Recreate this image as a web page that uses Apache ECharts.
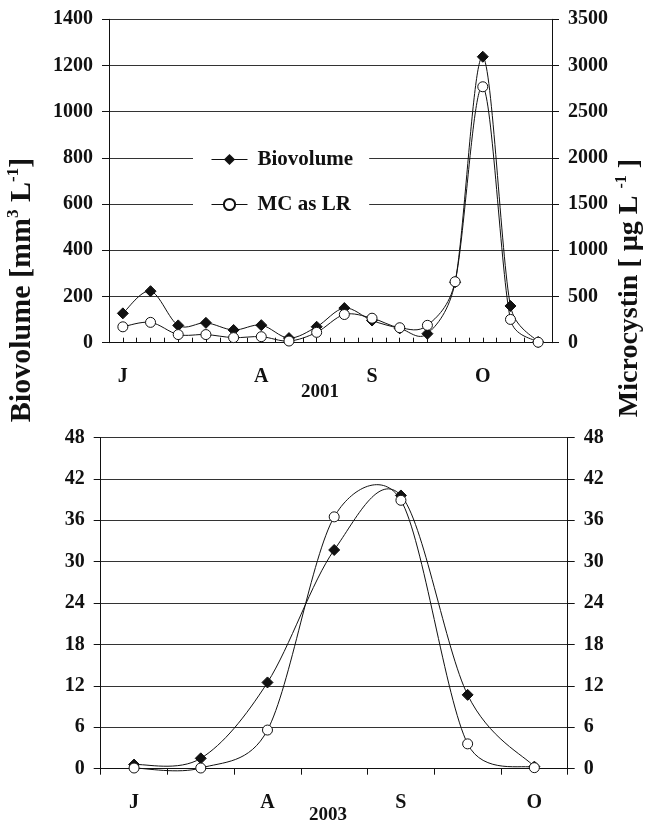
<!DOCTYPE html>
<html>
<head>
<meta charset="utf-8">
<script src="https://cdn.jsdelivr.net/npm/echarts@6/dist/echarts.min.js"></script>
<style>
html,body{margin:0;padding:0;background:#fff;}
#c{width:646px;height:823px;}
</style>
</head>
<body>
<div id="c"></div>
<script>
// ---- 2001 (top panel) ----
const months2001 = ['J','','','','','A','','','','S','','','','O','',''];
const biovolume2001 = [127, 223, 75, 86, 55, 76, 20, 69, 150, 96, 62, 39, 262, 1238, 159, 3];
const microcystin2001 = [172, 220, 88, 88, 55, 65, 18, 112, 305, 265, 162, 188, 660, 2770, 252, 5];
const leftTicks2001 = {min: 0, max: 1400, interval: 200};
const rightTicks2001 = {min: 0, max: 3500, interval: 500};
const minorTickSlots2001 = 32;

// ---- 2003 (bottom panel) ----
const months2003 = ['J','','A','','S','','O'];
const biovolume2003 = [0.6, 1.5, 12.5, 31.7, 39.6, 10.7, 0.3];
const microcystin2003 = [0.1, 0.1, 5.6, 36.5, 38.9, 3.6, 0.15];
const ticks2003 = {min: 0, max: 48, interval: 6};

const FONT = 'Liberation Serif';
const black = '#111';

const chart = echarts.init(document.getElementById('c'), null, {renderer: 'canvas'});

function yAxis(grid, t, pos) {
  return {
    type: 'value', gridIndex: grid, position: pos,
    min: t.min, max: t.max, interval: t.interval,
    axisLine: {show: true, lineStyle: {color: black, width: 1}},
    axisTick: {show: true, inside: false, length: 7, lineStyle: {color: black}},
    axisLabel: {color: black, fontFamily: FONT, fontWeight: 'bold', fontSize: 20, margin: 16,
                formatter: v => String(v)},
    splitLine: {show: pos === 'left', lineStyle: {color: '#333', width: 1}}
  };
}

// Excel-style smoothed curve (Bezier, tangent/6 with arm capped at half the segment),
// drawn through the axes' own coordinate mapping
function curve(values, xIdx, yIdx) {
  const n = values.length;
  function cap(ax, ay, segLen) {
    const len = Math.hypot(ax, ay);
    const lim = segLen / 2;
    if (len > lim && len > 0) { const s = lim / len; return [ax * s, ay * s]; }
    return [ax, ay];
  }
  return {
    type: 'custom', xAxisIndex: xIdx, yAxisIndex: yIdx, z: 1, silent: true,
    data: values.map((v, i) => [i, v]),
    renderItem: function (params, api) {
      const i = params.dataIndex;
      if (i >= n - 1) return null;
      const P = k => { const c = Math.max(0, Math.min(n - 1, k)); return api.coord([c, values[c]]); };
      const p0 = P(i - 1), p1 = P(i), p2 = P(i + 1), p3 = P(i + 2);
      const seg = Math.hypot(p2[0] - p1[0], p2[1] - p1[1]);
      const a1 = cap((p2[0] - p0[0]) / 6, (p2[1] - p0[1]) / 6, seg);
      const a2 = cap((p3[0] - p1[0]) / 6, (p3[1] - p1[1]) / 6, seg);
      return {
        type: 'bezierCurve',
        shape: {
          x1: p1[0], y1: p1[1], x2: p2[0], y2: p2[1],
          cpx1: p1[0] + a1[0], cpy1: p1[1] + a1[1],
          cpx2: p2[0] - a2[0], cpy2: p2[1] - a2[1]
        },
        style: {stroke: black, lineWidth: 1, fill: null}
      };
    }
  };
}

const hiddenLine = {color: black, width: 1, opacity: 0};
const diamond = {symbol: 'diamond', symbolSize: 11, itemStyle: {color: black, borderColor: black}};
const circle = {symbol: 'circle', symbolSize: 10, itemStyle: {color: '#fff', borderColor: black, borderWidth: 1}};

function marks(name, xIdx, yIdx, data, sym) {
  return Object.assign({type: 'line', name, xAxisIndex: xIdx, yAxisIndex: yIdx, data, z: 3,
                        showAllSymbol: true, lineStyle: hiddenLine}, sym);
}

const option = {
  animation: false,
  backgroundColor: '#fff',
  grid: [
    {left: 109, top: 19.3, width: 443, height: 323.4},
    {left: 100.7, top: 437.5, width: 467, height: 331.2}
  ],
  legend: {
    data: ['Biovolume', 'MC as LR'],
    orient: 'vertical',
    left: 193, top: 133,
    backgroundColor: '#fff',
    padding: [16, 16, 16, 18],
    itemGap: 24,
    itemWidth: 36, itemHeight: 14,
    selectedMode: false,
    lineStyle: {color: black, width: 1, opacity: 1},
    textStyle: {color: black, fontFamily: FONT, fontWeight: 'bold', fontSize: 21, padding: [0, 0, 0, 5]}
  },
  xAxis: [
    {
      type: 'category', gridIndex: 0, data: months2001, boundaryGap: true,
      axisLine: {show: true, lineStyle: {color: black}},
      axisTick: {show: false},
      axisLabel: {interval: 0, color: black, fontFamily: FONT, fontWeight: 'bold', fontSize: 20, margin: 24},
      splitLine: {show: false}
    },
    {
      type: 'category', gridIndex: 0, data: new Array(minorTickSlots2001).fill(''), boundaryGap: true,
      axisLine: {show: false},
      axisTick: {show: true, interval: 0, length: 5, lineStyle: {color: black}},
      axisLabel: {show: false},
      splitLine: {show: false}
    },
    {
      type: 'category', gridIndex: 1, data: months2003, boundaryGap: true,
      axisLine: {show: true, lineStyle: {color: black}},
      axisTick: {show: true, interval: 0, length: 6, lineStyle: {color: black}},
      axisLabel: {interval: 0, color: black, fontFamily: FONT, fontWeight: 'bold', fontSize: 20, margin: 24},
      splitLine: {show: false}
    }
  ],
  yAxis: [
    yAxis(0, leftTicks2001, 'left'),
    yAxis(0, rightTicks2001, 'right'),
    yAxis(1, ticks2003, 'left'),
    yAxis(1, ticks2003, 'right')
  ],
  series: [
    curve(biovolume2001, 0, 0),
    curve(microcystin2001, 0, 1),
    curve(biovolume2003, 2, 2),
    curve(microcystin2003, 2, 3),
    marks('Biovolume', 0, 0, biovolume2001, diamond),
    marks('MC as LR', 0, 1, microcystin2001, circle),
    marks('Biovolume', 2, 2, biovolume2003, diamond),
    marks('MC as LR', 2, 3, microcystin2003, circle)
  ],
  graphic: [
    {
      type: 'text', x: 22, y: 290, rotation: Math.PI / 2,
      style: {
        text: '{a|Biovolume [mm}{s|3}{a| L}{s|-1}{a|]}',
        align: 'center', verticalAlign: 'middle',
        rich: {
          a: {fontFamily: FONT, fontWeight: 'bold', fontSize: 30, fill: black, lineHeight: 34},
          s: {fontFamily: FONT, fontWeight: 'bold', fontSize: 17, fill: black, verticalAlign: 'top', lineHeight: 34, padding: [0, 0, 12, 0]}
        }
      }
    },
    {
      type: 'text', x: 630, y: 288, rotation: Math.PI / 2,
      style: {
        text: '{a|Microcystin [ µg L }{s|-1}{a| ]}',
        align: 'center', verticalAlign: 'middle',
        rich: {
          a: {fontFamily: FONT, fontWeight: 'bold', fontSize: 28, fill: black, lineHeight: 32},
          s: {fontFamily: FONT, fontWeight: 'bold', fontSize: 16, fill: black, verticalAlign: 'top', lineHeight: 32, padding: [0, 0, 11, 0]}
        }
      }
    },
    {
      type: 'text', x: 320, y: 392,
      style: {text: '2001', align: 'center', verticalAlign: 'middle', fontFamily: FONT, fontWeight: 'bold', fontSize: 19, fill: black}
    },
    {
      type: 'text', x: 328, y: 815,
      style: {text: '2003', align: 'center', verticalAlign: 'middle', fontFamily: FONT, fontWeight: 'bold', fontSize: 19, fill: black}
    }
  ]
};
chart.setOption(option);
</script>
</body>
</html>
